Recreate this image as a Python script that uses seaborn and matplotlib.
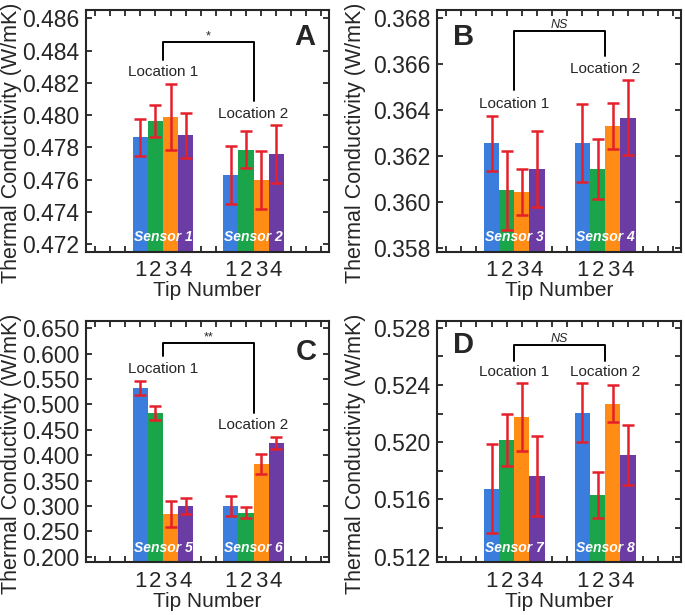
import pandas as pd
import matplotlib
matplotlib.use("Agg")
import matplotlib.pyplot as plt
import matplotlib.transforms as mtransforms
from matplotlib.ticker import FormatStrFormatter, MultipleLocator
import seaborn as sns

# ---- data ----
tips = [1, 2, 3, 4]
tip_colors = ["#3a7ddd", "#1ba54b", "#ff8c14", "#6a3ca4"]

# panel A : Sensor 1 (location 1) / Sensor 2 (location 2)
a_sensor1 = [0.47862, 0.47962, 0.47990, 0.47876]
a_sensor1_err = [0.00115, 0.00100, 0.00205, 0.00140]
a_sensor2 = [0.47628, 0.47785, 0.47601, 0.47758]
a_sensor2_err = [0.00180, 0.00115, 0.00180, 0.00180]

# panel B : Sensor 3 / Sensor 4
b_sensor3 = [0.36257, 0.36052, 0.36045, 0.36146]
b_sensor3_err = [0.00120, 0.00172, 0.00100, 0.00165]
b_sensor4 = [0.36257, 0.36146, 0.36332, 0.36368]
b_sensor4_err = [0.00170, 0.00130, 0.00100, 0.00163]

# panel C : Sensor 5 / Sensor 6
c_sensor5 = [0.533, 0.483, 0.284, 0.300]
c_sensor5_err = [0.014, 0.013, 0.025, 0.016]
c_sensor6 = [0.300, 0.2866, 0.3826, 0.4246]
c_sensor6_err = [0.019, 0.0105, 0.019, 0.012]

# panel D : Sensor 7 / Sensor 8
d_sensor7 = [0.51674, 0.52015, 0.52176, 0.51765]
d_sensor7_err = [0.0031, 0.0018, 0.0024, 0.0028]
d_sensor8 = [0.52207, 0.51632, 0.52268, 0.51910]
d_sensor8_err = [0.00207, 0.0016, 0.0013, 0.0021]

panel_letters = ["A", "B", "C", "D"]
sensor_names = [["Sensor 1", "Sensor 2"], ["Sensor 3", "Sensor 4"],
                ["Sensor 5", "Sensor 6"], ["Sensor 7", "Sensor 8"]]
signif = ["*", "NS", "**", "NS"]

# ---- figure ----
sns.set_style("ticks")
plt.rcParams["font.family"] = ["Liberation Sans", "DejaVu Sans"]

fig = plt.figure(figsize=(6.85, 6.15), dpi=100)

W, H = 685, 615
rects = [
    (86 / W, 1 - 251.7 / H, 243 / W, 241.7 / H),
    (437 / W, 1 - 251.7 / H, 244 / W, 241.7 / H),
    (86 / W, 1 - 562.3 / H, 243 / W, 241.7 / H),
    (437 / W, 1 - 562.3 / H, 244 / W, 241.7 / H),
]
ylabel_x = [-0.262, -0.29, -0.262, -0.29]

ylims = [(0.47155, 0.48651), (0.35785, 0.36836), (0.189, 0.6652), (0.5116, 0.5285)]
ymajor = [0.002, 0.002, 0.05, 0.004]
yminor = [None, None, None, 0.002]

# bracket: (left leg end, bar level, right leg end)
brackets = [
    (0.48341, 0.48453, 0.48086),
    (0.36488, 0.36745, 0.36638),
    (0.5954, 0.6204, 0.4840),
    (0.52571, 0.52676, 0.52571),
]
# "Location" label y
loc_y = [(0.4827, 0.48005), (0.36428, 0.3658), (0.5698, 0.4594), (0.52489, 0.52489)]
letter_pos = [(0.90, 0.89), (0.107, 0.89), (0.905, 0.87), (0.107, 0.90)]

panels = [
    (a_sensor1, a_sensor1_err, a_sensor2, a_sensor2_err),
    (b_sensor3, b_sensor3_err, b_sensor4, b_sensor4_err),
    (c_sensor5, c_sensor5_err, c_sensor6, c_sensor6_err),
    (d_sensor7, d_sensor7_err, d_sensor8, d_sensor8_err),
]

for i, (v1, e1, v2, e2) in enumerate(panels):
    ax = fig.add_axes(rects[i])
    df = pd.DataFrame({
        "pos": [t for t in tips] + [t + 6 for t in tips],
        "tip": tips + tips,
        "value": v1 + v2,
        "err": e1 + e2,
    })
    sns.barplot(data=df, x="pos", y="value", hue="tip", palette=tip_colors,
                native_scale=True, width=1.0, dodge=False, errorbar=None,
                saturation=1, legend=False, linewidth=0, ax=ax)
    ax.errorbar(df["pos"], df["value"], yerr=df["err"], fmt="none",
                ecolor="#e5202a", elinewidth=1.8, capsize=4.2, capthick=1.8, zorder=5)

    g1 = sum(tips) / 4
    g2 = g1 + 6
    yl, yt, yr = brackets[i]
    ax.plot([g1, g1, g2, g2], [yl, yt, yt, yr], color="black", lw=1.4, zorder=6)
    ax.text((g1 + g2) / 2, yt, signif[i], ha="center", va="bottom",
            fontsize=9, style="italic" if signif[i] == "NS" else "normal")
    ax.text(g1, loc_y[i][0], "Location 1", ha="center", va="center", fontsize=11)
    ax.text(g2, loc_y[i][1], "Location 2", ha="center", va="center", fontsize=11)

    trans = mtransforms.blended_transform_factory(ax.transData, ax.transAxes)
    for gx, name in zip([g1, g2], sensor_names[i]):
        ax.text(gx, 0.06, name, transform=trans, ha="center", va="center",
                color="white", fontsize=10, fontweight="bold", style="italic", zorder=7)

    ax.text(letter_pos[i][0], letter_pos[i][1], panel_letters[i], transform=ax.transAxes,
            ha="center", va="center", fontsize=21, fontweight="bold")

    ax.set_xlim(-2.6, 13.5)
    ax.set_ylim(*ylims[i])
    ax.set_xticks(df["pos"])
    ax.set_xticklabels([str(t) for t in df["tip"]])
    ax.xaxis.set_minor_locator(MultipleLocator(1))
    ax.yaxis.set_major_locator(MultipleLocator(ymajor[i]))
    if yminor[i]:
        ax.yaxis.set_minor_locator(MultipleLocator(yminor[i]))
    ax.yaxis.set_major_formatter(FormatStrFormatter("%.3f"))

    ax.tick_params(which="both", direction="in", top=True, right=True,
                   length=4, width=1.3)
    ax.tick_params(axis="y", labelsize=16.5, pad=5)
    ax.tick_params(axis="x", labelsize=16, pad=6)
    for s in ax.spines.values():
        s.set_linewidth(1.5)
        s.set_visible(True)

    ax.set_xlabel("Tip Number", fontsize=15, labelpad=0)
    ax.set_ylabel("Thermal Conductivity (W/mK)", fontsize=15.5)
    ax.yaxis.set_label_coords(ylabel_x[i], 0.45)

fig.savefig("out.png", dpi=100)
